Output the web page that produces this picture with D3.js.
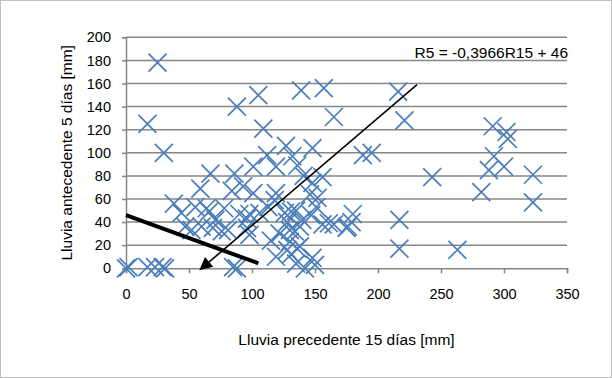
<!DOCTYPE html>
<html>
<head>
<meta charset="utf-8">
<script src="https://cdn.jsdelivr.net/npm/d3@7"></script>
<style>
  html, body { margin: 0; padding: 0; background: #fff; }
  svg { display: block; font-family: "Liberation Sans", Arial, sans-serif; }
</style>
</head>
<body>
<svg id="chart" width="612" height="378"></svg>
<script>
// Rainfall of the preceding 15 days (mm) for each event
const lluvia15 = [
  0, 2, 17, 23, 29, 31,
  25, 17, 30,
  88, 105, 109, 139, 157, 165, 216, 221,
  127, 112, 132, 148, 188, 195,
  67, 86, 101, 119,
  59, 38, 44, 55, 64, 47, 60, 52, 71,
  84, 101, 93, 90, 96, 81, 98, 85, 88,
  66, 78, 98, 69, 76, 96, 106, 113, 119, 118, 126, 135, 130, 138, 122, 115, 128, 138, 119, 135, 142,
  136, 148, 152, 151, 146, 131, 128, 140, 147, 165, 175, 156, 134, 130, 136, 148, 150, 131,
  141, 156, 161, 179, 176, 180,
  217, 217, 243, 263, 282, 288, 291, 292, 300, 302, 303, 323, 323
];
// Rainfall of the 5 antecedent days (mm) for the same events
const lluvia5 = [
  0, 1, 1, 1, 1, 0,
  178, 125, 100,
  140, 150, 121, 154, 156, 131, 153, 128,
  106, 98, 97, 104, 98, 100,
  82, 82, 88, 88,
  69, 56, 48, 53, 52, 36, 36, 33, 42,
  67, 65, 71, 47, 43, 33, 29, 1, 0,
  49, 52, 47, 35, 32, 35, 48, 53, 65, 59, 48, 50, 33, 36, 30, 24, 16, 19, 10, 4, 0,
  89, 74, 61, 53, 64, 49, 40, 42, 46, 38, 35, 38, 32, 23, 17, 9, 3, 12,
  80, 79, 39, 40, 36, 47,
  42, 17, 79, 16, 66, 85, 123, 97, 88, 118, 112, 81, 57
];

const xTicks = [0, 50, 100, 150, 200, 250, 300, 350];
const yTicks = [0, 20, 40, 60, 80, 100, 120, 140, 160, 180, 200];

// Fitted relation R5 = -0,3966 R15 + 46
const slope = -0.3966;
const intercept = 46;
const fitRange = [0, 105];
const equationLabel = "R5 = -0,3966R15 + 46";

// Arrow pointing from the upper right towards the low-rainfall corner
const arrowFrom = [231, 159];
const arrowTo = [59, -1];

const xTitle = "Lluvia precedente 15 días [mm]";
const yTitle = "Lluvia antecedente 5 días [mm]";

const svg = d3.select("#chart");
const W = 612, H = 378;

const x = d3.scaleLinear().domain([0, 350]).range([126, 567]);
const y = d3.scaleLinear().domain([0, 200]).range([268.3, 37.3]);

const gridColor = "#868686";
const blue = "#4A7EBB";
const tickFont = 14.5;
const titleFont = 15.5;

// chart frame
svg.append("rect")
  .attr("x", 0.5).attr("y", 0.5)
  .attr("width", W - 1).attr("height", H - 1)
  .attr("fill", "#fff").attr("stroke", "#bfbfbf").attr("stroke-width", 1);

// horizontal gridlines
svg.append("g").selectAll("line").data(yTicks.filter(d => d > 0)).join("line")
  .attr("x1", x(0)).attr("x2", x(350))
  .attr("y1", d => y(d)).attr("y2", d => y(d))
  .attr("stroke", gridColor).attr("stroke-width", 1.5);

// y axis
const yAxis = svg.append("g")
  .attr("transform", `translate(${x(0)},0)`)
  .call(d3.axisLeft(y).tickValues(yTicks).tickSize(4).tickPadding(11).tickFormat(d3.format("d")));
// x axis
const xAxis = svg.append("g")
  .attr("transform", `translate(0,${y(0)})`)
  .call(d3.axisBottom(x).tickValues(xTicks).tickSize(5).tickPadding(15).tickFormat(d3.format("d")));

[yAxis, xAxis].forEach(g => {
  g.select(".domain").attr("stroke", gridColor).attr("stroke-width", 1.5);
  g.selectAll(".tick line").attr("stroke", gridColor).attr("stroke-width", 1.5);
  g.selectAll(".tick text")
    .attr("fill", "#000")
    .style("font-family", "'Liberation Sans', Arial, sans-serif")
    .style("font-size", tickFont + "px");
});

// X markers
const pts = lluvia15.map((v, i) => [v, lluvia5[i]]);
const s = 9;
svg.append("g").selectAll("path").data(pts).join("path")
  .attr("d", d => {
    const cx = x(d[0]), cy = y(d[1]);
    return `M${cx - s},${cy - s}L${cx + s},${cy + s}M${cx - s},${cy + s}L${cx + s},${cy - s}`;
  })
  .attr("fill", "none").attr("stroke", blue).attr("stroke-width", 1.7);

// fitted line
svg.append("line")
  .attr("x1", x(fitRange[0])).attr("y1", y(slope * fitRange[0] + intercept))
  .attr("x2", x(fitRange[1])).attr("y2", y(slope * fitRange[1] + intercept))
  .attr("stroke", "#000").attr("stroke-width", 4);

// arrow
svg.append("defs").append("marker")
  .attr("id", "head")
  .attr("viewBox", "0 0 10 10")
  .attr("refX", 9).attr("refY", 5)
  .attr("markerWidth", 9).attr("markerHeight", 8)
  .attr("markerUnits", "strokeWidth")
  .attr("orient", "auto")
  .append("path").attr("d", "M0,0L10,5L0,10Z").attr("fill", "#000");

svg.append("line")
  .attr("x1", x(arrowFrom[0])).attr("y1", y(arrowFrom[1]))
  .attr("x2", x(arrowTo[0])).attr("y2", y(arrowTo[1]))
  .attr("stroke", "#000").attr("stroke-width", 1.6)
  .attr("marker-end", "url(#head)");

// equation label
svg.append("text")
  .attr("x", 568).attr("y", 58)
  .attr("text-anchor", "end")
  .attr("font-size", titleFont)
  .text(equationLabel);

// axis titles
svg.append("text")
  .attr("x", (x(0) + x(350)) / 2).attr("y", 345)
  .attr("text-anchor", "middle")
  .attr("font-size", titleFont)
  .text(xTitle);

svg.append("text")
  .attr("transform", `translate(72,${(y(0) + y(200)) / 2}) rotate(-90)`)
  .attr("text-anchor", "middle")
  .attr("font-size", titleFont)
  .text(yTitle);
</script>
</body>
</html>
